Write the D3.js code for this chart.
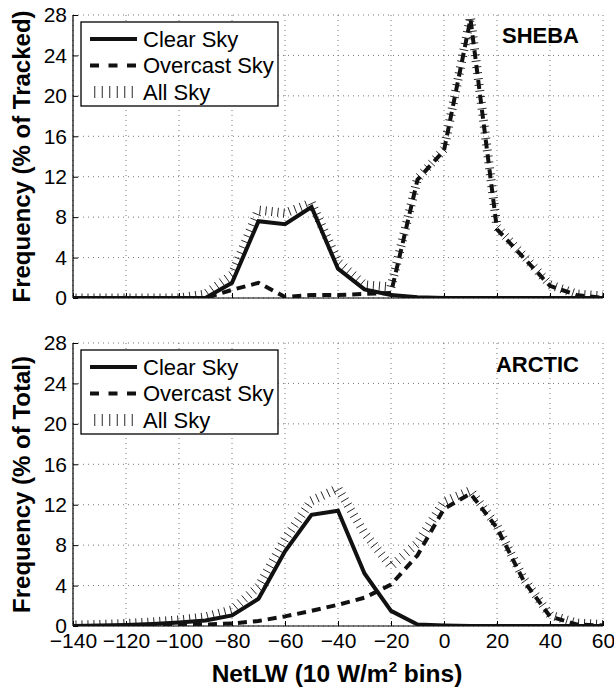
<!DOCTYPE html>
<html>
<head>
<meta charset="utf-8">
<script src="https://cdn.jsdelivr.net/npm/d3@7"></script>
<style>
  body { margin: 0; background: #fff; }
  svg { font-family: "Liberation Sans", Arial, Helvetica, sans-serif; }
</style>
</head>
<body>
<div id="chart"></div>
<script>
// bins of NetLW (10 W/m2)
const bins = [-140, -130, -120, -110, -100, -90, -80, -70, -60, -50, -40, -30, -20, -10, 0, 10, 20, 30, 40, 50, 60];

const shebaClear    = [0, 0, 0, 0, 0, 0, 1.5, 7.6, 7.3, 9.0, 2.9, 0.85, 0.3, 0.08, 0, 0, 0, 0, 0, 0, 0];
const shebaOvercast = [0, 0, 0, 0, 0, 0, 0.8, 1.5, 0.1, 0.3, 0.3, 0.4, 0.5, 11.7, 14.6, 27.6, 6.8, 4.0, 1.2, 0.3, 0];
const shebaAll      = [0, 0, 0, 0, 0, 0.4, 2.3, 8.7, 8.4, 9.4, 3.6, 1.3, 1.1, 11.8, 14.7, 27.8, 7.0, 4.2, 1.3, 0.4, 0.2];

const arcticClear    = [0, 0.05, 0.1, 0.2, 0.35, 0.55, 1.05, 2.7, 7.4, 11.0, 11.4, 5.2, 1.5, 0.15, 0.05, 0, 0, 0, 0, 0, 0];
const arcticOvercast = [0, 0, 0.02, 0.05, 0.1, 0.15, 0.25, 0.5, 0.95, 1.5, 2.1, 2.8, 4.1, 7.0, 11.6, 13.1, 9.7, 4.5, 0.95, 0.15, 0.05];
const arcticAll      = [0.1, 0.15, 0.25, 0.4, 0.6, 0.9, 1.6, 3.9, 8.6, 12.4, 13.6, 9.2, 5.9, 8.2, 12.3, 13.4, 9.9, 4.7, 1.1, 0.3, 0.15];

const xTicks = [-140, -120, -100, -80, -60, -40, -20, 0, 20, 40, 60];
const yTicks = [0, 4, 8, 12, 16, 20, 24, 28];
const legendLabels = ["Clear Sky", "Overcast Sky", "All Sky"];

const W = 614, H = 689;
const left = 73, plotW = 530, plotH = 283;

const svg = d3.select("#chart").append("svg")
    .attr("width", W)
    .attr("height", H);

const x = d3.scaleLinear().domain([-140, 60]).range([0, plotW]);
const y = d3.scaleLinear().domain([0, 28]).range([plotH, 0]);

// hatch ticks along a polyline (the "All Sky" style)
function hatchPath(pts, spacing, len) {
    let out = "";
    let carry = spacing / 2;
    for (let i = 0; i < pts.length - 1; i++) {
        const [x0, y0] = pts[i], [x1, y1] = pts[i + 1];
        const dx = x1 - x0, dy = y1 - y0;
        const segLen = Math.hypot(dx, dy);
        if (segLen === 0) continue;
        const ux = dx / segLen, uy = dy / segLen;
        const nx = uy, ny = -ux;
        let t = carry;
        while (t <= segLen) {
            const px = x0 + ux * t, py = y0 + uy * t;
            out += `M${px - nx * len / 2},${py - ny * len / 2}L${px + nx * len / 2},${py + ny * len / 2}`;
            t += spacing;
        }
        carry = t - segLen;
    }
    return out;
}

function drawPanel(top, clear, overcast, all, yTitle, name, showXLabels, id) {
    const g = svg.append("g").attr("transform", `translate(${left},${top})`);

    g.append("clipPath").attr("id", "clip" + id)
        .append("rect").attr("width", plotW).attr("height", plotH);

    // dotted grid
    g.append("g").selectAll("line").data(xTicks).join("line")
        .attr("x1", d => x(d)).attr("x2", d => x(d))
        .attr("y1", 0).attr("y2", plotH)
        .attr("stroke", "#777").attr("stroke-width", 1)
        .attr("stroke-dasharray", "1,4");
    g.append("g").selectAll("line").data(yTicks).join("line")
        .attr("x1", 0).attr("x2", plotW)
        .attr("y1", d => y(d)).attr("y2", d => y(d))
        .attr("stroke", "#777").attr("stroke-width", 1)
        .attr("stroke-dasharray", "1,4");

    // axes
    const yAxis = g.append("g")
        .call(d3.axisLeft(y).tickValues(yTicks).tickSize(-5).tickPadding(6).tickFormat(d3.format("d")));
    const xAxis = g.append("g").attr("transform", `translate(0,${plotH})`)
        .call(d3.axisBottom(x).tickValues(xTicks).tickSize(-5).tickPadding(7)
            .tickFormat(d => showXLabels ? (d < 0 ? "\u2212" + Math.abs(d) : d) : ""));
    [yAxis, xAxis].forEach(a => {
        a.select(".domain").attr("stroke", "#000").attr("stroke-width", 1.2);
        a.selectAll(".tick line").attr("stroke", "#000").attr("stroke-width", 1);
        a.selectAll("text").attr("fill", "#000").style("font-size", "21px")
            .style("font-family", "'Liberation Sans', Arial, sans-serif");
    });
    yAxis.select(".domain").attr("d", `M0,0V${plotH}`);
    xAxis.select(".domain").attr("d", `M0,0H${plotW}`);

    const pts = vals => vals.map((v, i) => [x(bins[i]), y(v)]);
    const line = d3.line();
    const curves = g.append("g").attr("clip-path", `url(#clip${id})`);

    curves.append("path")
        .attr("d", hatchPath(pts(all), 6, 9))
        .attr("stroke", "#111").attr("stroke-width", 0.9).attr("fill", "none");
    curves.append("path")
        .attr("d", line(pts(overcast)))
        .attr("fill", "none").attr("stroke", "#111").attr("stroke-width", 4)
        .attr("stroke-dasharray", "9,6");
    curves.append("path")
        .attr("d", line(pts(clear)))
        .attr("fill", "none").attr("stroke", "#111").attr("stroke-width", 4)
        .attr("stroke-linejoin", "miter");

    // legend
    const lg = g.append("g").attr("transform", "translate(8,7)");
    lg.append("rect").attr("width", 197).attr("height", 84)
        .attr("fill", "#fff").attr("stroke", "#000").attr("stroke-width", 1.3);
    legendLabels.forEach((lab, i) => {
        const ly = 17 + i * 26.5;
        if (i === 0) {
            lg.append("line").attr("x1", 9).attr("x2", 56).attr("y1", ly).attr("y2", ly)
                .attr("stroke", "#111").attr("stroke-width", 4);
        } else if (i === 1) {
            lg.append("line").attr("x1", 9).attr("x2", 56).attr("y1", ly).attr("y2", ly)
                .attr("stroke", "#111").attr("stroke-width", 4).attr("stroke-dasharray", "9,9.5");
        } else {
            lg.append("path").attr("d", hatchPath([[10, ly], [56, ly]], 7.5, 12))
                .attr("stroke", "#111").attr("stroke-width", 0.9);
        }
        lg.append("text").attr("x", 62).attr("y", ly).attr("dy", "0.36em")
            .style("font-size", "22px").text(lab);
    });

    g.append("text").attr("x", 506).attr("y", top === 15 ? 28 : 29)
        .attr("text-anchor", "end").style("font-size", "22px").style("font-weight", "bold")
        .text(name);

    svg.append("text")
        .attr("transform", `translate(30,${top + plotH / 2}) rotate(-90)`)
        .attr("text-anchor", "middle")
        .style("font-size", "24px").style("font-weight", "bold")
        .text(yTitle);
}

drawPanel(15, shebaClear, shebaOvercast, shebaAll, "Frequency (% of Tracked)", "SHEBA", false, 1);
drawPanel(343, arcticClear, arcticOvercast, arcticAll, "Frequency (% of Total)", "ARCTIC", true, 2);

// x axis title with superscript
const xt = svg.append("text").attr("x", 337).attr("y", 682)
    .attr("text-anchor", "middle")
    .style("font-size", "24.5px").style("font-weight", "bold");
xt.append("tspan").text("NetLW (10 W/m");
xt.append("tspan").attr("dy", -10).style("font-size", "15px").text("2");
xt.append("tspan").attr("dy", 10).text(" bins)");
</script>
</body>
</html>
